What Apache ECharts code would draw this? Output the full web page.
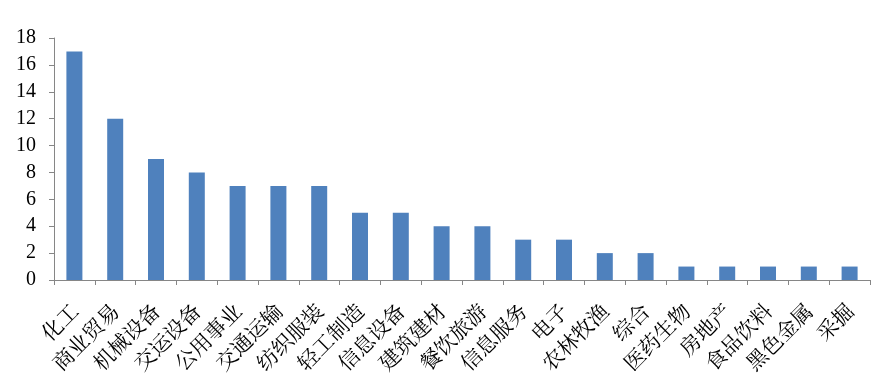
<!DOCTYPE html>
<html><head><meta charset="utf-8">
<script src="https://cdn.jsdelivr.net/npm/echarts@6/dist/echarts.min.js"></script>
<style>html,body{margin:0;padding:0;background:#fff}#c{width:879px;height:390px}</style>
</head><body><div id="c"></div>
<script>
const categories = ['化工','商业贸易','机械设备','交运设备','公用事业','交通运输','纺织服装','轻工制造','信息设备','建筑建材','餐饮旅游','信息服务','电子','农林牧渔','综合','医药生物','房地产','食品饮料','黑色金属','采掘'];
const values = [17,12,9,8,7,7,7,5,5,4,4,3,3,2,2,1,1,1,1,1];
const yTicks = {min:0, max:18, interval:2};
const chart = echarts.init(document.getElementById('c'));
chart.setOption({
  animation:false,
  grid:{left:54, right:9, top:38, bottom:110},
  xAxis:{type:'category', data:categories,
    axisLine:{lineStyle:{color:'#868686'}},
    axisTick:{show:true, length:5, lineStyle:{color:'#868686'}},
    axisLabel:{rotate:45, margin:27, color:'#000', fontSize:21, fontFamily:'"Noto Serif CJK SC","Noto Sans CJK SC", serif', interval:0}},
  yAxis:{type:'value', min:yTicks.min, max:yTicks.max, interval:yTicks.interval,
    axisLine:{show:true, lineStyle:{color:'#868686'}},
    axisTick:{show:true, length:5, lineStyle:{color:'#868686'}},
    splitLine:{show:false},
    axisLabel:{color:'#000', fontSize:20, margin:18, fontFamily:'"Liberation Serif", serif'}},
  series:[{type:'bar', data:values, barWidth:16, itemStyle:{color:'#4f81bd'}}]
});
</script></body></html>
